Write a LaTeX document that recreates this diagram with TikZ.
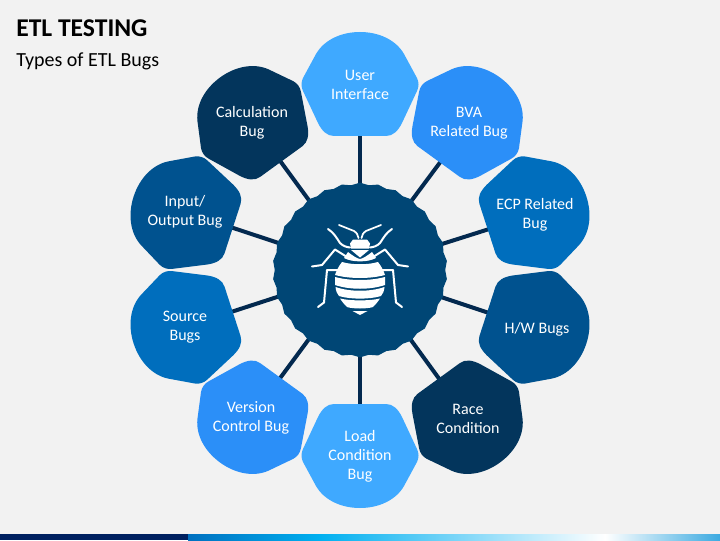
\documentclass[tikz,border=0pt]{standalone}
\usepackage{fontspec}
\setmainfont{Carlito}
\usepackage[HTML]{xcolor}
\usetikzlibrary{positioning, calc, backgrounds, shapes.geometric}
\definecolor{pagebg}{HTML}{F2F2F2}
\definecolor{lineblue}{HTML}{03294F}
\definecolor{hubblue}{HTML}{004675}
\definecolor{skyblue}{HTML}{3FA9FF}
\definecolor{brightblue}{HTML}{2B8FF8}
\definecolor{midblue}{HTML}{006EBD}
\definecolor{deepblue}{HTML}{00528F}
\definecolor{navyblue}{HTML}{03355C}
\definecolor{stripnavy}{HTML}{002060}
\definecolor{stripone}{HTML}{0070C0}
\definecolor{striptwo}{HTML}{00B0F0}
\definecolor{stripend}{HTML}{3CAAE1}
% one lobe, flat side towards the hub
\newcommand{\lobepath}{(-26,-52) -- (26,-52) .. controls (33,-52) and (38,-47) .. (42,-39)
  -- (57,-7) .. controls (59,-3) and (59,2) .. (57,6) -- (44,30)
  .. controls (36,44) and (19,52) .. (0,52) .. controls (-19,52) and (-36,44) .. (-44,30)
  -- (-57,6) .. controls (-59,2) and (-59,-3) .. (-57,-7) -- (-42,-39)
  .. controls (-38,-47) and (-33,-52) .. (-26,-52) -- cycle}

\begin{document}
\begin{tikzpicture}[x=0.75pt, y=0.75pt,
  lobetext/.style={text=white, align=center, font=\fontsize{12}{14.25}\selectfont, inner sep=1pt},
  link/.style={lineblue, line width=3pt},
  bugline/.style={white, line width=1.5pt, line cap=round, line join=round},
  bugfill/.style={fill=white, draw=none}]
\useasboundingbox (0,0) rectangle (720,540);
\begin{pgfonlayer}{background}
\fill[pagebg] (0,0) rectangle (720,540);
\end{pgfonlayer}
% bottom strip
\fill[stripnavy] (0,0) rectangle (188,6);
\shade[left color=stripone, right color=striptwo, draw=none] (188,0) rectangle (320,6);
\shade[left color=striptwo, right color=white, draw=none] (320,0) rectangle (605,6);
\shade[left color=white, right color=stripend, draw=none] (605,0) rectangle (720,6);
% titles
\node[anchor=base west, inner sep=0pt, font=\fontsize{19.2}{20}\selectfont\bfseries] (title) at (16,503.5) {ETL TESTING};
\node[anchor=base west, inner sep=0pt, font=\fontsize{15}{16}\selectfont] (subtitle) at (16,473) {Types of ETL Bugs};
% hub
\node[star, star points=30, star point ratio=1.025, fill=hubblue, minimum size=131pt, inner sep=0pt] (hub) at (360,270) {};
% lobes round the hub
\foreach \a/\c/\n/\p/\t in {90/skyblue/user/{360,455}/{User\\Interface},
  54/brightblue/bva/{469,416.5}/{BVA\\Related Bug},
  18/midblue/ecp/{535,325.5}/{ECP Related\\Bug},
  -18/deepblue/hw/{537,211}/{H/W Bugs},
  -54/navyblue/race/{468,121.5}/{Race\\Condition},
  -90/skyblue/load/{360,84}/{Load\\Condition\\Bug},
  -126/brightblue/version/{251,122.5}/{Version\\Control Bug},
  -162/midblue/source/{185,213}/{Source\\Bugs},
  162/deepblue/input/{185,328}/{Input/\\Output Bug},
  126/navyblue/calc/{252,417.5}/{Calculation\\Bug}}
{
  \fill[\c, shift={($(360,270)+(\a:186)$)}, rotate=\a-90] \lobepath;
  \node[lobetext] (\n) at (\p) {\t};
  \begin{pgfonlayer}{background}
  \draw[link] (hub.center) -- (\n);
  \end{pgfonlayer}
}
% bug icon
\begin{scope}[shift={(360,270)}]
\foreach \s in {1,-1} {
  \begin{scope}[xscale=\s]
  % antenna and palp
  \draw[bugline, line width=1.3pt] (21,45) -- (6,39) .. controls (3,37) and (2,35) .. (1.5,32);
  \draw[bugline] (32,41) .. controls (26,37) and (24,33) .. (20,27) .. controls (17,24) and (14,23) .. (10,22.5);
  % legs
  \draw[bugline] (48,3.5) -- (38,5) -- (25,20.5) -- (13,13);
  \draw[bugline] (42,-37) -- (36,-32.5) -- (33,0) -- (21,0);
  \end{scope}
}
% head
\fill[bugfill] (-7,30.5) -- (7,30.5) -- (10,26.5) -- (9,21.5) -- (-9,21.5) -- (-10,26.5) -- cycle;
\fill[bugfill] (-9,20) -- (9,20) -- (0,12.5) -- cycle;
% thorax
\fill[bugfill] (-12,18) .. controls (-7,14) and (-3,11.5) .. (0,11) .. controls (3,11.5) and (7,14) .. (12,18)
  -- (16,12) .. controls (8,7.5) and (-8,7.5) .. (-16,12) -- cycle;
% abdomen bands
\fill[bugfill] (-18,8) .. controls (-8,5) and (8,5) .. (18,8) .. controls (22,3) and (24,-2) .. (25,-5)
  .. controls (10,-9) and (-10,-9) .. (-25,-5) .. controls (-24,-2) and (-22,3) .. (-18,8) -- cycle;
\fill[bugfill] (-25,-7) .. controls (-10,-11) and (10,-11) .. (25,-7) -- (25,-15)
  .. controls (10,-20) and (-10,-20) .. (-25,-15) -- cycle;
\fill[bugfill] (-24.5,-17) .. controls (-10,-22) and (10,-22) .. (24.5,-17) .. controls (24,-21) and (23,-24) .. (21,-26)
  .. controls (10,-29.5) and (-10,-29.5) .. (-21,-26) .. controls (-23,-24) and (-24,-21) .. (-24.5,-17) -- cycle;
\fill[bugfill] (-20,-28.5) .. controls (-10,-31) and (10,-31) .. (20,-28.5) .. controls (17,-33) and (15,-35) .. (13,-37)
  .. controls (7,-39) and (-7,-39) .. (-13,-37) .. controls (-15,-35) and (-17,-33) .. (-20,-28.5) -- cycle;
% tail
\fill[bugfill] (-7.5,-41) -- (7.5,-41) -- (0,-45) -- cycle;
\end{scope}
\end{tikzpicture}
\end{document}
